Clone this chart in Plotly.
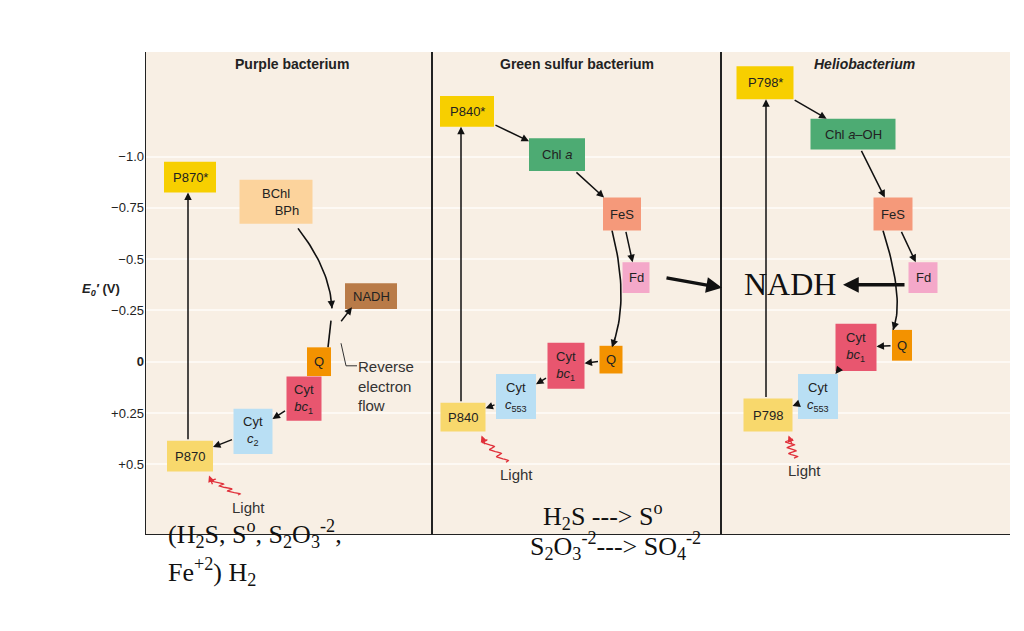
import numpy as np
import plotly.graph_objects as go

# ---- data ----
yticks = [-1.0, -0.75, -0.5, -0.25, 0, 0.25, 0.5]
ytick_labels = ["\u22121.0", "\u22120.75", "\u22120.5", "\u22120.25", "<b>0</b>", "+0.25", "+0.5"]
panel_titles = ["<b>Purple bacterium</b>", "<b>Green sulfur bacterium</b>", "<b><i>Heliobacterium</i></b>"]
panel_title_x = [292, 577, 864]

# boxes: label, x-center, E0' (V), width, height (V), color
box_labels = ["P870*", "BChl<br>&nbsp;&nbsp;&nbsp;&nbsp;&nbsp;&nbsp;BPh", "NADH", "Q", "Cyt<br><i>bc</i><sub>1</sub>", "Cyt<br><i>c</i><sub>2</sub>", "P870",
              "P840*", "Chl <i>a</i>", "FeS", "Fd", "Q", "Cyt<br><i>bc</i><sub>1</sub>", "Cyt<br><i>c</i><sub>553</sub>", "P840",
              "P798*", "Chl <i>a</i>\u2013OH", "FeS", "Fd", "Cyt<br><i>bc</i><sub>1</sub>", "Q", "Cyt<br><i>c</i><sub>553</sub>", "P798"]
box_x = [190, 276, 371, 319, 304, 253, 190,
         467, 557, 622, 636, 611, 566, 516, 463,
         765, 853, 893, 923, 856, 902, 818, 768]
box_E = [-0.90, -0.78, -0.32, 0.0, 0.18, 0.34, 0.46,
         -1.22, -1.01, -0.72, -0.41, -0.01, 0.02, 0.17, 0.27,
         -1.36, -1.11, -0.72, -0.41, -0.07, -0.08, 0.17, 0.26]
box_w = [52, 73, 52, 24, 35, 39, 46,
         54, 56, 38, 27, 23, 37, 40, 45,
         57, 85, 39, 29, 41, 20, 40, 49]
box_h = [0.15, 0.215, 0.125, 0.14, 0.215, 0.22, 0.15,
         0.15, 0.16, 0.16, 0.15, 0.135, 0.225, 0.22, 0.14,
         0.16, 0.15, 0.16, 0.15, 0.23, 0.15, 0.22, 0.16]
box_colors = ["#f7cf00", "#fcd39c", "#b97b48", "#f39200", "#e8566f", "#b9dff4", "#f8d86c",
              "#f7cf00", "#4dab73", "#f5997a", "#f4a8c9", "#f39200", "#e8566f", "#b9dff4", "#f8d86c",
              "#f7cf00", "#4dab73", "#f5997a", "#f4a8c9", "#e8566f", "#f39200", "#b9dff4", "#f8d86c"]

# straight arrows: (from box, to box) indices
arrow_pairs = [(6, 0), (4, 5), (5, 6),
               (14, 7), (7, 8), (8, 9), (9, 10), (11, 12), (12, 13), (13, 14),
               (22, 15), (15, 16), (16, 17), (17, 18), (20, 19), (19, 21), (21, 22)]
light_x = [248, 516, 804]
light_E = [0.71, 0.55, 0.53]
light_box = [6, 14, 22]

fig = go.Figure()

def edge(i, j):
    x0, y0 = box_x[i], box_E[i]
    x1, y1 = box_x[j], box_E[j]
    dx, dy = x1 - x0, (y1 - y0) * 205
    hw, hh = box_w[i] / 2, box_h[i] * 205 / 2
    s = min(hw / abs(dx) if dx else 1e9, hh / abs(dy) if dy else 1e9)
    return x0 + dx * s, y0 + dy * s / 205

for i in range(len(box_labels)):
    fig.add_shape(type="rect", x0=box_x[i] - box_w[i] / 2, x1=box_x[i] + box_w[i] / 2,
                  y0=box_E[i] - box_h[i] / 2, y1=box_E[i] + box_h[i] / 2,
                  fillcolor=box_colors[i], line=dict(width=0), layer="above")
    fig.add_annotation(x=box_x[i], y=box_E[i], text=box_labels[i], showarrow=False,
                       font=dict(size=13, color="#222", family="Liberation Sans"))

for i, j in arrow_pairs:
    xs, ys = edge(i, j)
    xe, ye = edge(j, i)
    if abs(box_x[i] - box_x[j]) < 6:
        xs = xe = box_x[i] - 2
    fig.add_annotation(x=xe, y=ye, ax=xs, ay=ys, xref="x", yref="y", axref="x", ayref="y",
                       showarrow=True, arrowhead=2, arrowsize=1, arrowwidth=1.5, arrowcolor="#111", text="")

def curve(p0, c, p1):
    t = np.linspace(0, 1, 30)
    x = (1 - t) ** 2 * p0[0] + 2 * (1 - t) * t * c[0] + t ** 2 * p1[0]
    y = (1 - t) ** 2 * p0[1] + 2 * (1 - t) * t * c[1] + t ** 2 * p1[1]
    fig.add_trace(go.Scatter(x=x, y=y, mode="lines", line=dict(color="#111", width=1.6), hoverinfo="skip"))
    fig.add_annotation(x=x[-1], y=y[-1], ax=x[-4], ay=y[-4], xref="x", yref="y", axref="x", ayref="y",
                       showarrow=True, arrowhead=2, arrowwidth=1.5, arrowcolor="#111", text="")

curve((298, -0.65), (330, -0.45), (332, -0.26))
curve((612, -0.64), (630, -0.3), (612, -0.07))
curve((883, -0.64), (905, -0.3), (893, -0.155))
fig.add_trace(go.Scatter(x=[328, 331], y=[-0.07, -0.2], mode="lines", line=dict(color="#111", width=1.6), hoverinfo="skip"))
fig.add_annotation(x=352, y=-0.265, ax=340, ay=-0.19, xref="x", yref="y", axref="x", ayref="y",
                   showarrow=True, arrowhead=2, arrowwidth=1.5, arrowcolor="#111", text="")
fig.add_trace(go.Scatter(x=[357, 346, 341], y=[0.02, 0.02, -0.09], mode="lines", line=dict(color="#333", width=1), hoverinfo="skip"))
fig.add_annotation(x=356, y=0.12, text="Reverse<br>electron<br>flow", showarrow=False, xanchor="left",
                   align="left", font=dict(size=15, color="#333", family="Liberation Sans"))

# light squiggles
for lx, le, bi in zip(light_x, light_E, light_box):
    t = np.linspace(0, 1, 80)
    xa, ya = lx - 10, le - 0.06
    xb, yb = box_x[bi] + box_w[bi] / 2 - 4, box_E[bi] + box_h[bi] / 2 + 0.03
    px = xa + (xb - xa) * t + 4 * np.sin(t * 7 * np.pi)
    py = ya + (yb - ya) * t
    fig.add_trace(go.Scatter(x=px[:-6], y=py[:-6], mode="lines", line=dict(color="#e0303a", width=1.3), hoverinfo="skip"))
    fig.add_annotation(x=xb, y=yb - 0.01, ax=xb + 4, ay=yb + 0.04, xref="x", yref="y", axref="x", ayref="y",
                       showarrow=True, arrowhead=2, arrowwidth=1.3, arrowcolor="#e0303a", text="")
    fig.add_annotation(x=lx, y=le, text="Light", showarrow=False, font=dict(size=15, color="#333", family="Liberation Sans"))

for xv in [145, 432, 721]:
    fig.add_shape(type="line", x0=xv, x1=xv, y0=-1.51, y1=0.845, line=dict(color="#222", width=2))
fig.add_shape(type="line", x0=145, x1=1010, y0=0.845, y1=0.845, line=dict(color="#222", width=2))

for t, x in zip(panel_titles, panel_title_x):
    fig.add_annotation(x=x, y=-1.45, text=t, showarrow=False, font=dict(size=14, color="#222", family="Liberation Sans"))

fig.add_annotation(x=790, y=-0.38, text="NADH", showarrow=False, font=dict(size=32, family="Liberation Serif", color="#111"))
fig.add_annotation(x=722, y=-0.36, ax=665, ay=-0.41, xref="x", yref="y", axref="x", ayref="y",
                   showarrow=True, arrowhead=2, arrowsize=0.9, arrowwidth=3.5, arrowcolor="#111", text="")
fig.add_annotation(x=843, y=-0.375, ax=906, ay=-0.375, xref="x", yref="y", axref="x", ayref="y",
                   showarrow=True, arrowhead=2, arrowsize=0.9, arrowwidth=3.5, arrowcolor="#111", text="")

serif = dict(size=26, family="Liberation Serif", color="#111")
fig.add_annotation(x=603, y=0.75, text="H<sub>2</sub>S ---> S<sup>o</sup>", showarrow=False, font=serif)
fig.add_annotation(x=615, y=-0.065, xref="x", yref="paper", text="S<sub>2</sub>O<sub>3</sub><sup>-2</sup>---> SO<sub>4</sub><sup>-2</sup>", showarrow=False, font=serif)
fig.add_annotation(x=166, y=-0.04, xref="x", yref="paper", text="(H<sub>2</sub>S, S<sup>o</sup>, S<sub>2</sub>O<sub>3</sub><sup>-2</sup>,", showarrow=False, xanchor="left", font=serif)
fig.add_annotation(x=166, y=-0.118, xref="x", yref="paper", text="Fe<sup>+2</sup>) H<sub>2</sub>", showarrow=False, xanchor="left", font=serif)

fig.add_annotation(x=-0.075, y=-0.35, xref="paper", yref="y", text="<b><i>E<sub>0</sub>\u2032</i> (V)</b>", showarrow=False,
                   font=dict(size=13, color="#222", family="Liberation Sans"))
fig.update_layout(
    width=1024, height=631, showlegend=False,
    margin=dict(l=137, r=22, t=44, b=104),
    paper_bgcolor="white", plot_bgcolor="#f8efe4",
    xaxis=dict(range=[145, 1010], visible=False, fixedrange=True),
    yaxis=dict(range=[0.845, -1.51], tickvals=yticks, ticktext=ytick_labels, showgrid=True,
               gridcolor="#fdf9f4", gridwidth=1.5, zeroline=False, ticks="", ticklen=0,
               tickfont=dict(size=13, color="#222", family="Liberation Sans")),
)
fig.write_html("out.html")
